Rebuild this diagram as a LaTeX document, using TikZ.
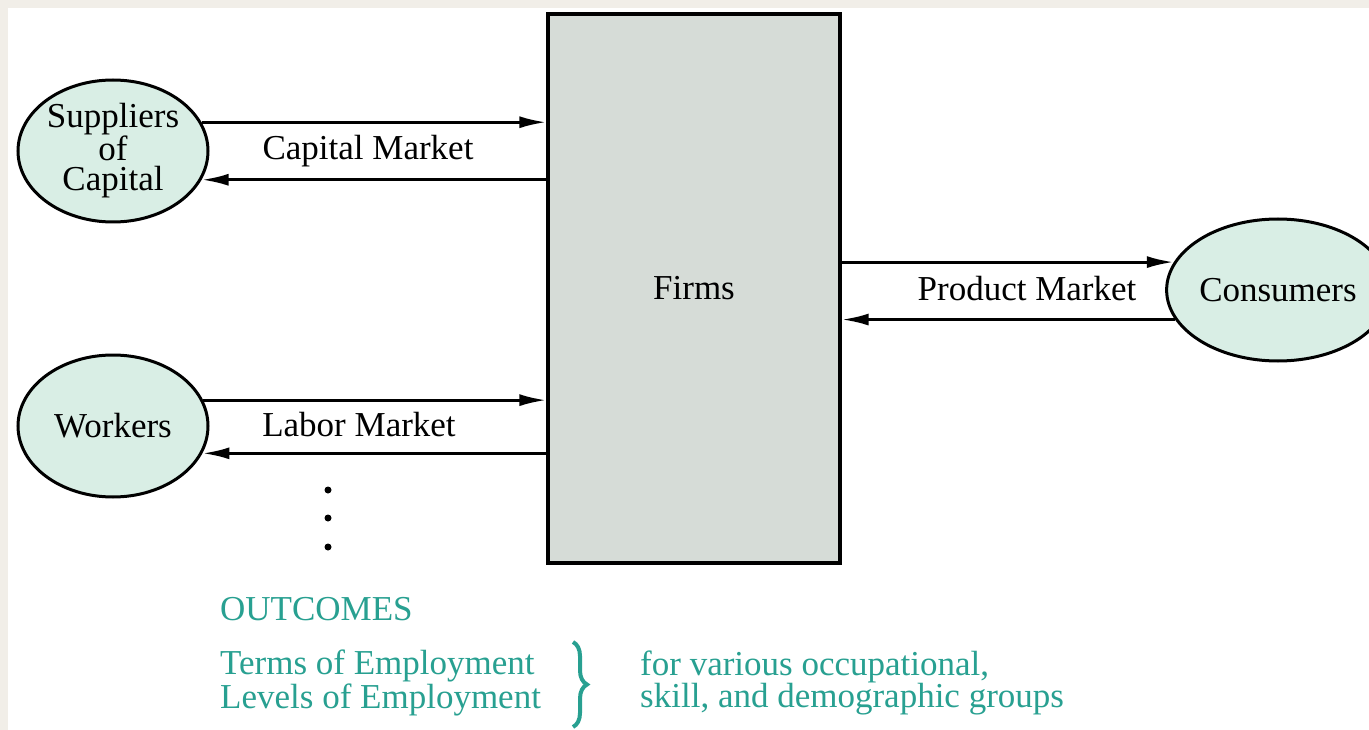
\documentclass[tikz,border=0pt]{standalone}
\usepackage{fontspec}
\setmainfont{Liberation Serif}
\usetikzlibrary{shapes.geometric,arrows.meta,decorations.pathreplacing}
\definecolor{bgout}{HTML}{F1EEE8}
\definecolor{ellfill}{HTML}{D9EEE5}
\definecolor{rectfill}{HTML}{D6DCD7}
\definecolor{teal2}{RGB}{40,160,145}
\tikzset{
  txt/.style={font=\fontsize{35}{30}\selectfont, text=black, align=center, inner sep=0pt},
  agent/.style={ellipse, draw=black, line width=3pt, fill=ellfill, inner sep=0pt, txt},
  flow/.style={line width=3pt, -{Latex[length=27pt,width=12pt]}},
  outc/.style={font=\fontsize{35}{30}\selectfont, text=teal2, align=left, inner sep=0pt, anchor=west},
  dotn/.style={circle, fill=black, inner sep=0pt, minimum size=7pt}
}
\begin{document}
\begin{tikzpicture}[x=1pt,y=-1pt]
\fill[bgout] (0,0) rectangle (1369,730);
\fill[white] (8,8) rectangle (1369,730);
\useasboundingbox (0,0) rectangle (1369,730);

\node[draw=black, line width=3.2pt, fill=rectfill, minimum width=292pt, minimum height=549pt, txt] (firms) at (694,288.5) {Firms};

\node[agent, minimum width=190pt, minimum height=142pt] (sup) at (113,151) {Suppliers\\of\\Capital};
\node[agent, minimum width=190pt, minimum height=142pt] (wrk) at (113,426) {Workers};
\node[agent, minimum width=184pt, minimum height=142pt] (con) at (1278,290) {Consumers};

\draw[flow] (sup.18) -- (sup.18 -| firms.west);
\draw[flow] (sup.-18 -| firms.west) -- (sup.-18);
\node[txt] (capm) at (368,151) {Capital Market};

\draw[flow] (wrk.16) -- (wrk.16 -| firms.west);
\draw[flow] (wrk.-17 -| firms.west) -- (wrk.-17);
\node[txt] (labm) at (359,425) {Labor Market};

\draw[flow] (firms.east |- con.165.5) -- (con.165.5);
\draw[flow] (con.196) -- (firms.east |- con.196);
\node[txt] (prodm) at (1027,289) {Product Market};

\node[dotn] (d1) at (328,490) {};
\node[dotn] (d2) at (328,518) {};
\node[dotn] (d3) at (328,547) {};

\node[outc] (outc) at (220,609) {OUTCOMES};
\node[outc] (terms) at (220,683) {Terms of Employment\\Levels of Employment};
\node[outc] (groups) at (640,683) {for various occupational,\\skill, and demographic groups};
\draw[teal2, line width=4pt, decorate, decoration={brace, amplitude=14pt}] (573,642) -- (573,727);
\end{tikzpicture}
\end{document}
